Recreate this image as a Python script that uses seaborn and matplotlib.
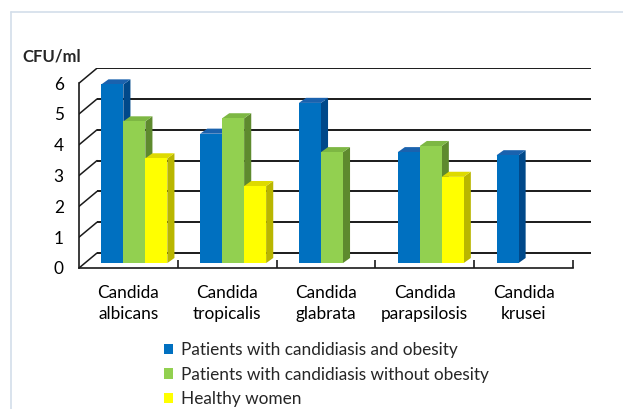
import numpy as np
import pandas as pd
import seaborn as sns
import matplotlib
matplotlib.use("Agg")
import matplotlib.pyplot as plt
import matplotlib.transforms as mtransforms
from matplotlib.patches import Polygon, Rectangle
from matplotlib.lines import Line2D

# ---------------- data ----------------
species = ["Candida\nalbicans", "Candida\ntropicalis", "Candida\nglabrata",
           "Candida\nparapsilosis", "Candida\nkrusei"]
groups = ["Patients with candidiasis and obesity",
          "Patients with candidiasis without obesity",
          "Healthy women"]
obese = [5.8, 4.2, 5.2, 3.6, 3.5]
non_obese = [4.6, 4.7, 3.6, 3.8, None]
healthy = [3.4, 2.5, None, 2.8, None]
y_ticks = [0, 1, 2, 3, 4, 5, 6]
y_label = "CFU/ml"

front_cols = ["#0070C0", "#92D050", "#FFFF00"]
top_cols = ["#1A62AE", "#7DB743", "#DEDA00"]
side_cols = ["#00498A", "#5E8A2E", "#B9B600"]

rows = []
for g, vals in zip(groups, [obese, non_obese, healthy]):
    for s, v in zip(species, vals):
        if v is not None:
            rows.append({"species": s, "group": g, "cfu": v})
df = pd.DataFrame(rows)

# ---------------- style ----------------
sns.set_theme(style="white")
plt.rcParams["font.family"] = ["Lato", "DejaVu Sans"]
FS = 12.4

W, H = 623, 409
fig = plt.figure(figsize=(W / 100, H / 100), dpi=100)
fig.patch.set_facecolor("white")

WDX, WDY = 0.182, 0.487     # depth of the back wall (data units)
BDX, BDY = 0.06, 0.16       # depth position of bar front faces
DDX, DDY = 0.072, 0.165     # depth of each bar

px_x = 98.8
px_y = 30.8
left_px, base_px = 79, 268
right_px = left_px + (5 + WDX) * px_x
top_px = base_px - (6 + WDY) * px_y
ax = fig.add_axes([left_px / W, 1 - base_px / H,
                   (right_px - left_px) / W, (base_px - top_px) / H])
ax.set_facecolor("none")

sns.barplot(data=df, x="species", y="cfu", hue="group", order=species,
            hue_order=groups, palette=front_cols, width=0.668, saturation=1,
            errorbar=None, ax=ax, legend=False, linewidth=0)

ax.set_xlim(-0.5, 4.5 + WDX)
ax.set_ylim(0, 6 + WDY)

shift = mtransforms.Affine2D().translate(BDX, BDY) + ax.transData

bars = [p for p in ax.patches if p.get_height() > 0]
bars.sort(key=lambda p: p.get_x())
for k, p in enumerate(bars):
    fc = matplotlib.colors.to_hex(p.get_facecolor())
    idx = [matplotlib.colors.to_hex(c) for c in front_cols].index(fc)
    x0, w, h = p.get_x(), p.get_width(), p.get_height()
    p.set_transform(shift)
    p.set_zorder(3 + 2 * k)
    side = Polygon([(x0 + w, 0), (x0 + w + DDX, DDY), (x0 + w + DDX, h + DDY),
                    (x0 + w, h)], closed=True, fc=side_cols[idx], lw=0,
                   transform=shift, zorder=2 + 2 * k)
    top = Polygon([(x0, h), (x0 + w, h), (x0 + w + DDX, h + DDY),
                   (x0 + DDX, h + DDY)], closed=True, fc=top_cols[idx], lw=0,
                  transform=shift, zorder=2 + 2 * k)
    ax.add_patch(side)
    ax.add_patch(top)

# back wall gridlines and left wall diagonals
for v in y_ticks:
    ax.plot([-0.5 + WDX, 4.5 + WDX], [v + WDY, v + WDY], color="#1a1a1a",
            lw=1.4, zorder=1, solid_capstyle="butt")
    ax.plot([-0.5, -0.5 + WDX], [v, v + WDY], color="#1a1a1a", lw=1.1,
            zorder=1)

for s in ["top", "right"]:
    ax.spines[s].set_visible(False)
ax.spines["left"].set_bounds(0, 6)
ax.spines["bottom"].set_bounds(-0.5, 4.5)
for s in ["left", "bottom"]:
    ax.spines[s].set_color("#1a1a1a")
    ax.spines[s].set_linewidth(1.2)

ax.set_yticks(y_ticks)
ax.set_yticklabels([str(t) for t in y_ticks])
ax.tick_params(axis="y", length=0, pad=11, labelsize=FS, labelcolor="black")
ax.set_xticks(range(len(species)))
ax.set_xticklabels(species)
ax.tick_params(axis="x", which="major", length=0, pad=12.5, labelsize=FS,
               labelcolor="black")
for t in ax.get_xticklabels():
    t.set_linespacing(1.35)
ax.set_xticks(np.arange(0.5, 5, 1.0), minor=True)
ax.tick_params(axis="x", which="minor", direction="in", length=6, width=1.2,
               color="#1a1a1a", bottom=True)
ax.set_xlabel("")
ax.set_ylabel("")

fig.text(22 / W, 1 - 57 / H, y_label, weight="bold", va="center", ha="left",
         fontsize=12)

handles = [Rectangle((0, 0), 1, 1, fc=c, lw=0) for c in front_cols]
fig.legend(handles=handles, labels=groups, loc="upper left",
           bbox_to_anchor=(164 / W, 1 - 342 / H), frameon=False,
           handlelength=0.55, handleheight=0.55, handletextpad=0.45,
           labelspacing=0.5, fontsize=FS, borderpad=0, borderaxespad=0)

# outer frame (top and left edges visible)
fig.add_artist(Line2D([11 / W, 1], [1 - 12 / H] * 2, transform=fig.transFigure,
                      color="#D3DEEA", lw=1.2))
fig.add_artist(Line2D([11 / W] * 2, [0, 1 - 12 / H], transform=fig.transFigure,
                      color="#D3DEEA", lw=1.2))

fig.savefig("out.png", dpi=100)
